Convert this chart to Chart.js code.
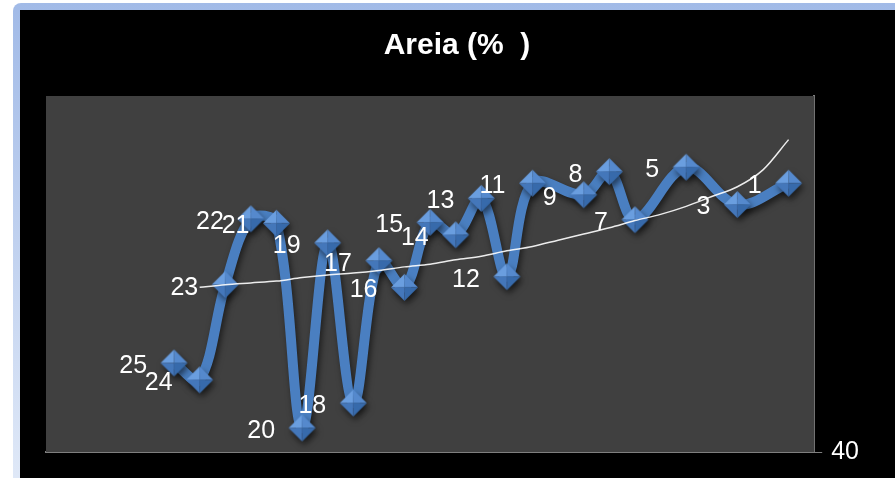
<!DOCTYPE html>
<html>
<head>
<meta charset="utf-8">
<title>Areia (%)</title>
<script src="https://cdn.jsdelivr.net/npm/chart.js@4.4.1/dist/chart.umd.min.js"></script>
<style>
    html, body { margin: 0; padding: 0; background: #fff; }
    #frame {
        position: absolute; left: 13px; top: 3px; width: 882px; height: 475px;
        background: linear-gradient(#a1bae7, #dfe8f7);
        border-top-left-radius: 8px;
    }
    #inner { position: absolute; left: 7px; top: 7px; width: 875px; height: 468px; background: #000; }
    canvas { display: block; }
</style>
</head>
<body>
<div id="frame"><div id="inner"><canvas id="areia" width="875" height="468"></canvas></div></div>
<script>
// sample ids, left to right
const samples = ['25', '24', '23', '22', '21', '20', '19', '18', '17', '16', '15', '14', '13',
                 '12', '11', '10', '9', '8', '7', '6', '5', '4', '3', '2', '1'];
// sand content (%), null = no value for that sample
const areia = [50.0, 48.1, 58.8, 66.2, 65.7, 42.7, 63.5, 45.5, 61.5, 58.5, 65.8, 64.4, 68.5,
               59.7, 70.2, null, 68.9, 71.5, 66.1, null, 72.0, null, 67.8, null, 70.2];
// trend line
const trend = [null, 58.5, 58.8, 59.0, 59.2, 59.6, 59.9, 60.1, 60.4, 60.8, 61.1, 61.6, 62.0,
               62.6, 63.1, 63.8, 64.5, 65.2, 66.0, 66.7, 67.6, 68.7, 69.8, 71.7, 75.1];
const yTicks = [40];

const FONT = '"Liberation Sans", Arial, sans-serif';

// beveled blue diamond used as marker
function diamondMarker(r) {
    const c = document.createElement('canvas');
    const s = 2 * r + 2;
    c.width = s; c.height = s;
    const g = c.getContext('2d');
    const m = s / 2;
    const L = [m - r, m], T = [m, m - r], R = [m + r, m], B = [m, m + r], C = [m, m];
    const facets = [
        [L, T, '#6a9edf'],
        [T, R, '#5589cd'],
        [R, B, '#376aab'],
        [B, L, '#4477ba']
    ];
    facets.forEach(f => {
        g.beginPath();
        g.moveTo(f[0][0], f[0][1]);
        g.lineTo(f[1][0], f[1][1]);
        g.lineTo(C[0], C[1]);
        g.closePath();
        g.fillStyle = f[2];
        g.fill();
    });
    return c;
}

const plotBackground = {
    id: 'plotBackground',
    beforeDatasetsDraw(chart) {
        const {ctx, chartArea: a} = chart;
        ctx.save();
        ctx.fillStyle = '#404040';
        ctx.fillRect(a.left, a.top, a.right - a.left, a.bottom - a.top);
        ctx.restore();
    }
};

const lineShadow = {
    id: 'lineShadow',
    beforeDatasetDraw(chart, args) {
        if (args.index !== 0) return;
        const ctx = chart.ctx;
        ctx.save();
        ctx.shadowColor = 'rgba(0, 0, 0, 0.55)';
        ctx.shadowBlur = 6;
        ctx.shadowOffsetX = 2;
        ctx.shadowOffsetY = 4;
    },
    afterDatasetDraw(chart, args) {
        if (args.index === 0) chart.ctx.restore();
    }
};

// sample numbers written to the left of each marker
const sampleLabels = {
    id: 'sampleLabels',
    afterDatasetsDraw(chart) {
        const meta = chart.getDatasetMeta(0);
        const ctx = chart.ctx;
        ctx.save();
        ctx.font = '25px ' + FONT;
        ctx.fillStyle = '#fff';
        ctx.textAlign = 'right';
        ctx.textBaseline = 'middle';
        meta.data.forEach((pt, i) => {
            if (areia[i] === null) return;
            ctx.fillText(samples[i], pt.x - 27, pt.y + 3);
        });
        ctx.restore();
    }
};

new Chart(document.getElementById('areia'), {
    type: 'line',
    data: {
        datasets: [{
            label: 'Areia',
            data: areia.map((v, i) => ({x: i + 1, y: v})),
            borderColor: '#4a7fc1',
            borderWidth: 10,
            tension: 0.35,
            spanGaps: true,
            pointStyle: diamondMarker(13.5),
            pointRadius: 13.5,
            order: 1
        }, {
            label: 'Tendência',
            data: trend.map((v, i) => ({x: i + 1, y: v})),
            borderColor: 'rgba(255, 255, 255, 0.9)',
            borderWidth: 1.5,
            cubicInterpolationMode: 'monotone',
            pointRadius: 0,
            order: 0
        }]
    },
    options: {
        responsive: false,
        animation: false,
        layout: { padding: { left: 26, right: 27, top: 0, bottom: 26 } },
        plugins: {
            legend: { display: false },
            tooltip: { enabled: false },
            title: {
                display: true,
                text: 'Areia (%  )',
                color: '#fff',
                font: { size: 30, weight: 'bold', family: FONT },
                padding: { top: 18, bottom: 32 }
            }
        },
        scales: {
            x: {
                type: 'linear',
                min: -4,
                max: 26,
                ticks: { display: false },
                grid: { display: false, drawTicks: false },
                border: { display: true, color: '#7f7f7f', width: 2 }
            },
            y: {
                position: 'right',
                min: 40,
                max: 80,
                afterBuildTicks: axis => {
                    axis.ticks = yTicks.map(v => ({value: v}));
                },
                ticks: {
                    color: '#fff',
                    padding: 9,
                    font: { size: 25, family: FONT }
                },
                grid: { display: true, drawOnChartArea: false, drawTicks: true, tickLength: 8, color: '#7f7f7f' },
                border: { display: true, color: '#7f7f7f', width: 2 }
            }
        }
    },
    plugins: [plotBackground, lineShadow, sampleLabels]
});
</script>
</body>
</html>
